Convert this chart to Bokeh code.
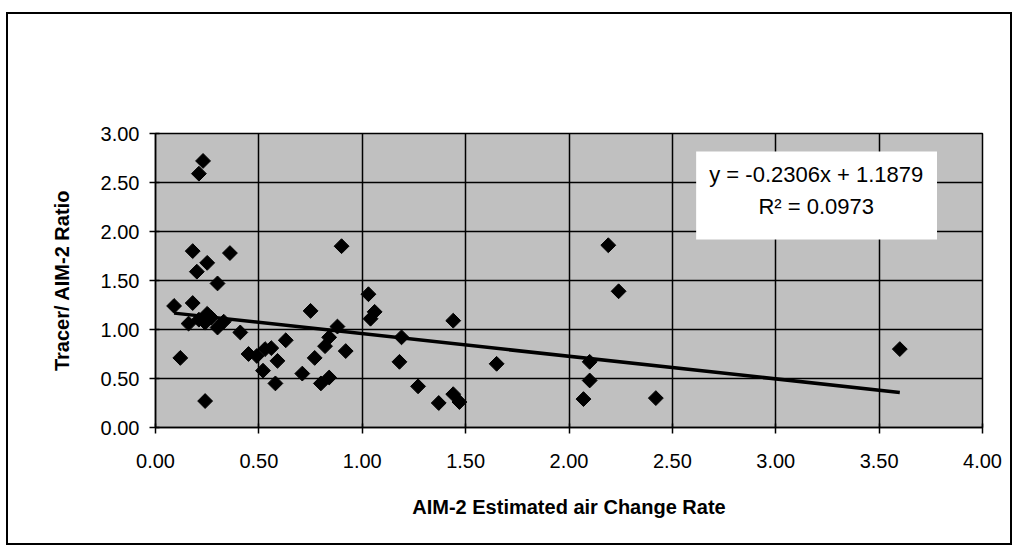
import math
from bokeh.plotting import figure
from bokeh.models import Range1d, FixedTicker, NumeralTickFormatter, BoxAnnotation, Label
from bokeh.embed import file_html
from bokeh.resources import INLINE

# ---- data ----
x_vals = [0.09, 0.12, 0.16, 0.18, 0.18, 0.20, 0.21, 0.23, 0.21, 0.24,
          0.25, 0.25, 0.27, 0.24, 0.30, 0.30, 0.33, 0.36, 0.41, 0.45,
          0.49, 0.53, 0.52, 0.56, 0.58, 0.59, 0.63, 0.71, 0.75, 0.77,
          0.80, 0.82, 0.84, 0.84, 0.88, 0.90, 0.92, 1.03, 1.04, 1.06,
          1.18, 1.19, 1.27, 1.37, 1.44, 1.44, 1.47, 1.65, 2.07, 2.10,
          2.10, 2.19, 2.24, 2.42, 3.60]
y_vals = [1.24, 0.71, 1.06, 1.27, 1.80, 1.59, 2.59, 2.72, 1.10, 0.27,
          1.68, 1.16, 1.12, 1.07, 1.47, 1.02, 1.08, 1.78, 0.97, 0.75,
          0.73, 0.80, 0.58, 0.81, 0.45, 0.68, 0.89, 0.55, 1.19, 0.71,
          0.45, 0.83, 0.92, 0.51, 1.03, 1.85, 0.78, 1.36, 1.11, 1.18,
          0.67, 0.92, 0.42, 0.25, 1.09, 0.34, 0.26, 0.65, 0.29, 0.67,
          0.48, 1.86, 1.39, 0.30, 0.80]
slope = -0.2306
intercept = 1.1879
r_squared = 0.0973
x_ticks = [0.0, 0.5, 1.0, 1.5, 2.0, 2.5, 3.0, 3.5, 4.0]
y_ticks = [0.0, 0.5, 1.0, 1.5, 2.0, 2.5, 3.0]
x_title = "AIM-2 Estimated air Change Rate"
y_title = "Tracer/ AIM-2 Ratio"
eq_text = "y = -0.2306x + 1.1879"
r2_text = "R\u00b2 = 0.0973"

FONT = "Liberation Sans"

p = figure(width=1006, height=533, output_backend="svg", toolbar_location=None,
           x_range=Range1d(0, 4), y_range=Range1d(0, 3),
           min_border_left=147, min_border_right=32,
           min_border_top=119, min_border_bottom=120)
# outer chart border
p.stylesheets = [":host { border: 2px solid black; margin: 12px 0 0 6px; }"]
p.background_fill_color = "#c0c0c0"
p.border_fill_color = "white"
p.outline_line_color = "black"
p.outline_line_width = 1.5

for g, t in ((p.xgrid, x_ticks), (p.ygrid, y_ticks)):
    g.ticker = FixedTicker(ticks=t)
    g.grid_line_color = "black"
    g.grid_line_width = 1.5

for ax, t in ((p.xaxis, x_ticks), (p.yaxis, y_ticks)):
    ax.ticker = FixedTicker(ticks=t)
    ax.formatter = NumeralTickFormatter(format="0.00")
    ax.axis_line_color = "black"
    ax.axis_line_width = 1.5
    ax.major_tick_line_color = "black"
    ax.major_tick_line_width = 1.5
    ax.major_tick_in = 4
    ax.major_tick_out = 6
    ax.minor_tick_line_color = None
    ax.major_label_text_font = FONT
    ax.major_label_text_font_size = "20px"
    ax.major_label_text_color = "black"
    ax.axis_label_text_font = FONT
    ax.axis_label_text_font_size = "20px"
    ax.axis_label_text_font_style = "bold"
    ax.axis_label_text_color = "black"

p.xaxis.axis_label = x_title
p.yaxis.axis_label = y_title
p.xaxis.major_label_standoff = 20
p.yaxis.major_label_standoff = 10
p.xaxis.axis_label_standoff = 25
p.yaxis.axis_label_standoff = 25

# trend line
tx = [min(x_vals), max(x_vals)]
ty = [slope * v + intercept for v in tx]
p.line(tx, ty, line_color="black", line_width=3.5)

# scatter points (diamonds)
p.scatter(x_vals, y_vals, marker="square", angle=math.pi / 4, size=10.5,
          fill_color="black", line_color="black")

# equation box
p.add_layout(BoxAnnotation(left=2.615, right=3.78, top=2.816, bottom=1.918,
                           fill_color="white", fill_alpha=1.0, line_color=None))
p.add_layout(Label(x=3.196, y=2.58, text=eq_text, text_align="center",
                   text_baseline="middle", text_font=FONT, text_font_size="22px",
                   text_color="black"))
p.add_layout(Label(x=3.196, y=2.255, text=r2_text, text_align="center",
                   text_baseline="middle", text_font=FONT, text_font_size="22px",
                   text_color="black"))

open("out.html", "w").write(file_html(p, INLINE))
